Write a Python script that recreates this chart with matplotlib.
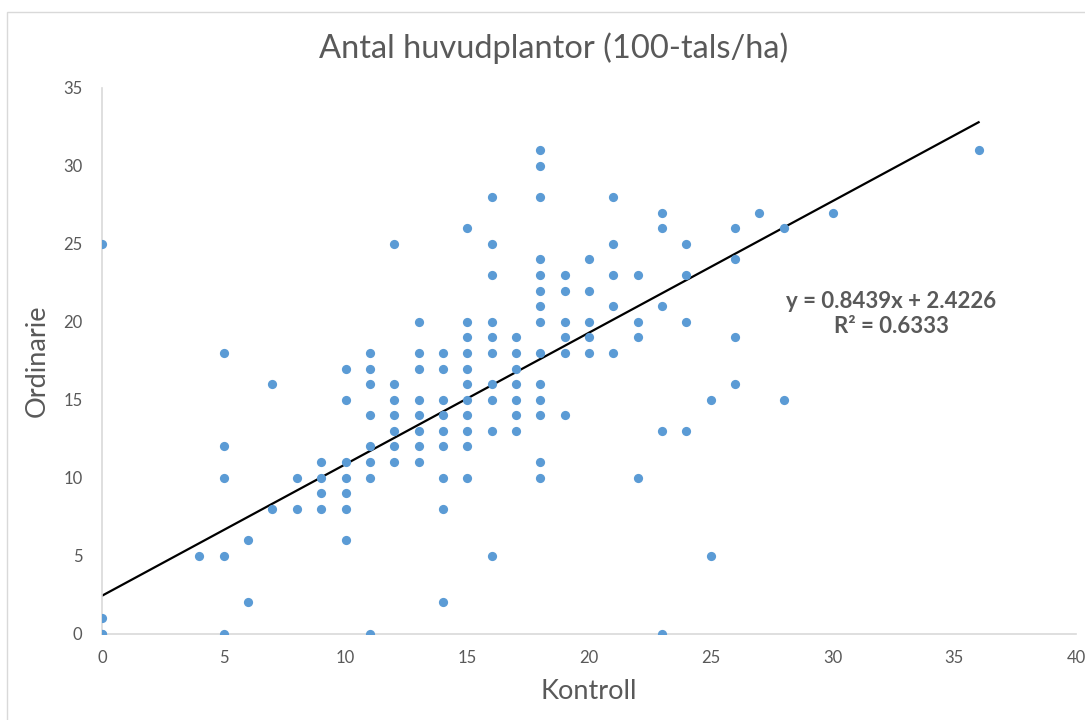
import matplotlib.pyplot as plt
from matplotlib.patches import Rectangle

# Kontroll (x) and Ordinarie (y) values
kontroll = ([0, 0, 0, 0] + [4] + [5] * 5 + [6] * 2 + [7] * 2 + [8] * 2 + [9] * 4
            + [10] * 7 + [11] * 8 + [12] * 7 + [13] * 8 + [14] * 9 + [15] * 11
            + [16] * 10 + [17] * 7 + [18] * 14 + [19] * 6 + [20] * 5 + [21] * 5
            + [22] * 4 + [23] * 5 + [24] * 4 + [25] * 2 + [26] * 4 + [27] + [28] * 2
            + [30] + [36])
ordinarie = ([25, 1, 0, 0]
             + [5]
             + [18, 12, 10, 5, 0]
             + [6, 2]
             + [16, 8]
             + [10, 8]
             + [11, 10, 9, 8]
             + [17, 15, 11, 10, 9, 8, 6]
             + [18, 17, 16, 14, 12, 11, 10, 0]
             + [25, 16, 15, 14, 13, 12, 11]
             + [20, 18, 17, 15, 14, 13, 12, 11]
             + [18, 17, 15, 14, 13, 12, 10, 8, 2]
             + [26, 20, 19, 18, 17, 16, 15, 14, 13, 12, 10]
             + [28, 25, 23, 20, 19, 18, 16, 15, 13, 5]
             + [19, 18, 17, 16, 15, 14, 13]
             + [31, 30, 28, 24, 23, 22, 21, 20, 18, 16, 15, 14, 11, 10]
             + [23, 22, 20, 19, 18, 14]
             + [24, 22, 20, 19, 18]
             + [28, 25, 23, 21, 18]
             + [23, 20, 19, 10]
             + [27, 26, 21, 13, 0]
             + [25, 23, 20, 13]
             + [15, 5]
             + [26, 24, 19, 16]
             + [27]
             + [26, 15]
             + [27]
             + [31])

# Excel linear trendline
slope = 0.8439
intercept = 2.4226
r2 = 0.6333

xticks = [0, 5, 10, 15, 20, 25, 30, 35, 40]
yticks = [0, 5, 10, 15, 20, 25, 30, 35]

grey = '#595959'
plt.rcParams['font.family'] = ['Lato', 'DejaVu Sans']

fig = plt.figure(figsize=(10.85, 7.2), dpi=100)
ax = fig.add_axes([102 / 1085, 1 - 633.5 / 720, 974 / 1085, 545.5 / 720])

# chart area border
fig.patches.append(Rectangle((7 / 1085, -0.05), 1.1, 1 - 12 / 720 + 0.05,
                             transform=fig.transFigure, fill=False,
                             edgecolor='#d9d9d9', linewidth=1))

ax.scatter(kontroll, ordinarie, s=44, color='#5B9BD5', zorder=3, linewidths=0)

x_line = [min(kontroll), max(kontroll)]
y_line = [slope * x + intercept for x in x_line]
ax.plot(x_line, y_line, color='black', linewidth=1.6, zorder=2)

ax.text(32.4, 20.5, f'y = {slope}x + {intercept}\nR² = {r2}', ha='center', va='center',
        multialignment='center', fontsize=16, fontweight='bold', color=grey,
        linespacing=1.2)

ax.set_xlim(0, 40)
ax.set_ylim(0, 35)
ax.set_xticks(xticks)
ax.set_yticks(yticks)
ax.tick_params(length=0, labelsize=12, labelcolor=grey, pad=12)
ax.tick_params(axis='y', pad=14)

for side in ['top', 'right']:
    ax.spines[side].set_visible(False)
for side in ['left', 'bottom']:
    ax.spines[side].set_color('#d9d9d9')
    ax.spines[side].set_linewidth(1.2)

# title is centred on the whole chart area, not on the plot area
fig.text(554 / 1085, 1 - 48 / 720, 'Antal huvudplantor (100-tals/ha)', fontsize=23.5,
         color=grey, ha='center', va='center')
ax.set_xlabel('Kontroll', fontsize=19.5, color=grey, labelpad=9)
ax.set_ylabel('Ordinarie', fontsize=19.5, color=grey, labelpad=10)

fig.savefig('out.png', dpi=100)
